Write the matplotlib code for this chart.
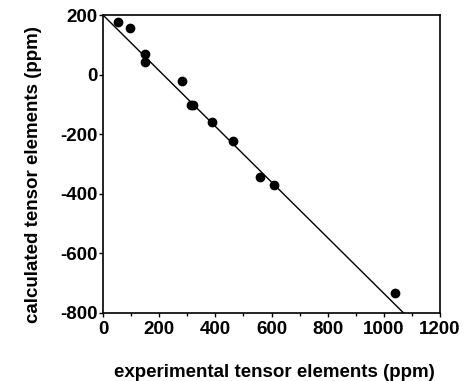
import matplotlib
matplotlib.use('Agg')
import matplotlib.pyplot as plt
from matplotlib.ticker import MultipleLocator

# experimental vs calculated tensor elements (ppm)
exp_ppm = [52, 97, 148, 148, 281, 313, 322, 387, 461, 558, 607, 1040]
calc_ppm = [177, 157, 69, 43, -22, -101, -103, -159, -223, -342, -369, -734]

# fitted line endpoints
fit_x = [0, 1070]
fit_y = [200, -800]

xticks = [0, 200, 400, 600, 800, 1000, 1200]
yticks = [-800, -600, -400, -200, 0, 200]


def main():
    plt.rcParams['font.family'] = ['Liberation Sans', 'DejaVu Sans']
    plt.rcParams['font.weight'] = 'bold'
    plt.rcParams['axes.unicode_minus'] = False

    fig = plt.figure(figsize=(4.65, 3.81), dpi=100)
    ax = fig.add_axes([0.2215, 0.1785, 0.725, 0.782])

    ax.plot(fit_x, fit_y, color='black', linewidth=1.0)
    ax.plot(exp_ppm, calc_ppm, 'o', color='black', markersize=6, clip_on=False)

    ax.set_xlim(0, 1200)
    ax.set_ylim(-800, 200)
    ax.set_xticks(xticks)
    ax.set_yticks(yticks)
    ax.xaxis.set_minor_locator(MultipleLocator(100))
    ax.tick_params(which='both', direction='out', length=3, width=1, labelsize=13.5, pad=1)
    ax.tick_params(axis='x', which='major', pad=3)
    ax.tick_params(which='minor', length=2)

    for s in ax.spines.values():
        s.set_linewidth(1.2)

    ax.set_xlabel('experimental tensor elements (ppm)', fontsize=13.5, fontweight='bold', va='center')
    ax.set_ylabel('calculated tensor elements (ppm)', fontsize=13.5, fontweight='bold', va='center')
    ax.xaxis.set_label_coords(0.507, -0.201)
    ax.yaxis.set_label_coords(-0.205, 0.466)

    plt.savefig('out.png', dpi=100)


if __name__ == '__main__':
    main()
